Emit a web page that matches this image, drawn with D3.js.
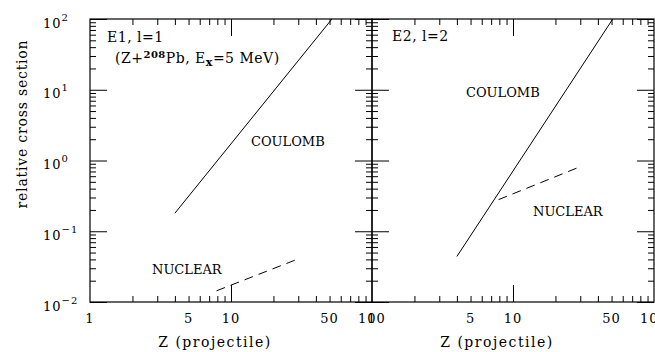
<!DOCTYPE html>
<html>
<head>
<meta charset="utf-8">
<script src="https://cdn.jsdelivr.net/npm/d3@7"></script>
<style>
  body { margin: 0; background: #fff; }
  svg text { font-family: "DejaVu Serif", serif; fill: #000; }
</style>
</head>
<body>
<div id="chart"></div>
<script>
// values (Z, relative cross section)
const xTickLabels = [1, 5, 10, 50, 100];
const yTickExps = [-2, -1, 0, 1, 2];
const e1Coulomb = [[4.0, 0.18], [52, 100]];
const e1Nuclear = [[7.9, 0.0144], [28.4, 0.039]];
const e2Coulomb = [[4.0, 0.044], [51, 100]];
const e2Nuclear = [[7.9, 0.28], [28.3, 0.78]];

const width = 655, height = 352;
const marginTop = 19, marginBottom = 50, marginLeft = 90;
const panelWidth = 282;

const svg = d3.select('#chart').append('svg')
  .attr('width', width).attr('height', height);

const y = d3.scaleLog([0.01, 100], [height - marginBottom, marginTop]);

// minor ticks 2..9 of each decade
const minor = (lo, hi) => {
  const out = [];
  for (let e = lo; e < hi; e++) for (let m = 2; m <= 9; m++) out.push(m * Math.pow(10, e));
  return out;
};
const xMinor = minor(0, 2);
const yMinor = minor(-2, 2);
const yMajor = yTickExps.map(e => Math.pow(10, e));

const panels = [
  { label: 'E1', coulomb: e1Coulomb, nuclear: e1Nuclear },
  { label: 'E2', coulomb: e2Coulomb, nuclear: e2Nuclear }
];

const line = (x) => d3.line().x(d => x(d[0])).y(d => y(d[1]));

panels.forEach((p, i) => {
  const x0 = marginLeft + i * panelWidth;
  const x = d3.scaleLog([1, 100], [x0, x0 + panelWidth]);
  const g = svg.append('g');

  // frame
  g.append('rect')
    .attr('x', x0).attr('y', marginTop)
    .attr('width', panelWidth).attr('height', y(0.01) - marginTop)
    .attr('fill', 'none').attr('stroke', '#000').attr('stroke-width', 1.2);

  // inside ticks on all four sides
  const tickAxis = (axis, vals, size, transform) => {
    g.append('g').attr('transform', transform)
      .call(axis.tickValues(vals).tickSize(size).tickFormat(''))
      .call(s => s.select('.domain').remove())
      .call(s => s.selectAll('.tick line').attr('stroke', '#000'));
  };
  tickAxis(d3.axisBottom(x), xMinor, -6, `translate(0,${y(0.01)})`);
  tickAxis(d3.axisBottom(x), [10], -17, `translate(0,${y(0.01)})`);
  tickAxis(d3.axisTop(x), xMinor, -6, `translate(0,${marginTop})`);
  tickAxis(d3.axisTop(x), [10], -17, `translate(0,${marginTop})`);
  tickAxis(d3.axisLeft(y), yMinor, -6, `translate(${x0},0)`);
  tickAxis(d3.axisLeft(y), yMajor, -17, `translate(${x0},0)`);
  tickAxis(d3.axisRight(y), yMinor, -6, `translate(${x0 + panelWidth},0)`);
  tickAxis(d3.axisRight(y), yMajor, -17, `translate(${x0 + panelWidth},0)`);

  // x tick labels
  g.selectAll('text.xt').data(xTickLabels).join('text')
    .attr('class', 'xt')
    .attr('x', d => x(d)).attr('y', 323)
    .attr('text-anchor', 'middle').attr('font-size', 13)
    .attr('letter-spacing', 1)
    .text(d => d);

  // x label
  g.append('text')
    .attr('x', x0 + panelWidth / 2 - 16).attr('y', 347)
    .attr('text-anchor', 'middle').attr('font-size', 14)
    .attr('letter-spacing', 1.5)
    .text('Z (projectile)');

  // curves
  const clipId = 'clip' + i;
  svg.append('clipPath').attr('id', clipId).append('rect')
    .attr('x', x0).attr('y', marginTop)
    .attr('width', panelWidth).attr('height', y(0.01) - marginTop);
  const curves = g.append('g').attr('clip-path', `url(#${clipId})`);
  curves.append('path').datum(p.coulomb)
    .attr('d', line(x)).attr('fill', 'none').attr('stroke', '#000').attr('stroke-width', 1);
  curves.append('path').datum(p.nuclear)
    .attr('d', line(x)).attr('fill', 'none').attr('stroke', '#000').attr('stroke-width', 1)
    .attr('stroke-dasharray', '9,6');

  // annotations
  const note = (dx, by, txt, size) => g.append('text')
    .attr('x', x0 + dx).attr('y', by).attr('font-size', size || 14).text(txt);
  if (i === 0) {
    note(17, 42, 'E1, l=1').attr('letter-spacing', 0.5);
    const t = note(25, 63, '').attr('letter-spacing', 0.5);
    t.append('tspan').text('(Z+');
    t.append('tspan').attr('font-size', 10).attr('font-weight', 'bold').attr('dy', -5).text('208');
    t.append('tspan').attr('dy', 5).text('Pb, E');
    t.append('tspan').attr('font-size', 11).attr('font-weight', 'bold').attr('dy', 3).text('x');
    t.append('tspan').attr('dy', -3).text('=5 MeV)');
    note(161, 146, 'COULOMB', 13);
    note(62, 274, 'NUCLEAR', 13);
  } else {
    note(20, 41, 'E2, l=2').attr('letter-spacing', 0.5);
    note(94, 97, 'COULOMB', 13);
    note(161, 216, 'NUCLEAR', 13);
  }
});

// y tick labels (powers of ten)
const yl = svg.selectAll('text.yt').data(yTickExps).join('text')
  .attr('class', 'yt')
  .attr('x', 43).attr('y', d => y(Math.pow(10, d)) + 8.5)
  .attr('font-size', 13).attr('letter-spacing', 1);
yl.append('tspan').text('10');
yl.append('tspan').attr('font-size', 10).attr('dy', -7)
  .text(d => d < 0 ? '\u2212' + (-d) : d);

// y label
svg.append('text')
  .attr('transform', 'translate(27,124) rotate(-90)')
  .attr('text-anchor', 'middle').attr('font-size', 14)
  .attr('letter-spacing', 0.8)
  .text('relative cross section');
</script>
</body>
</html>
